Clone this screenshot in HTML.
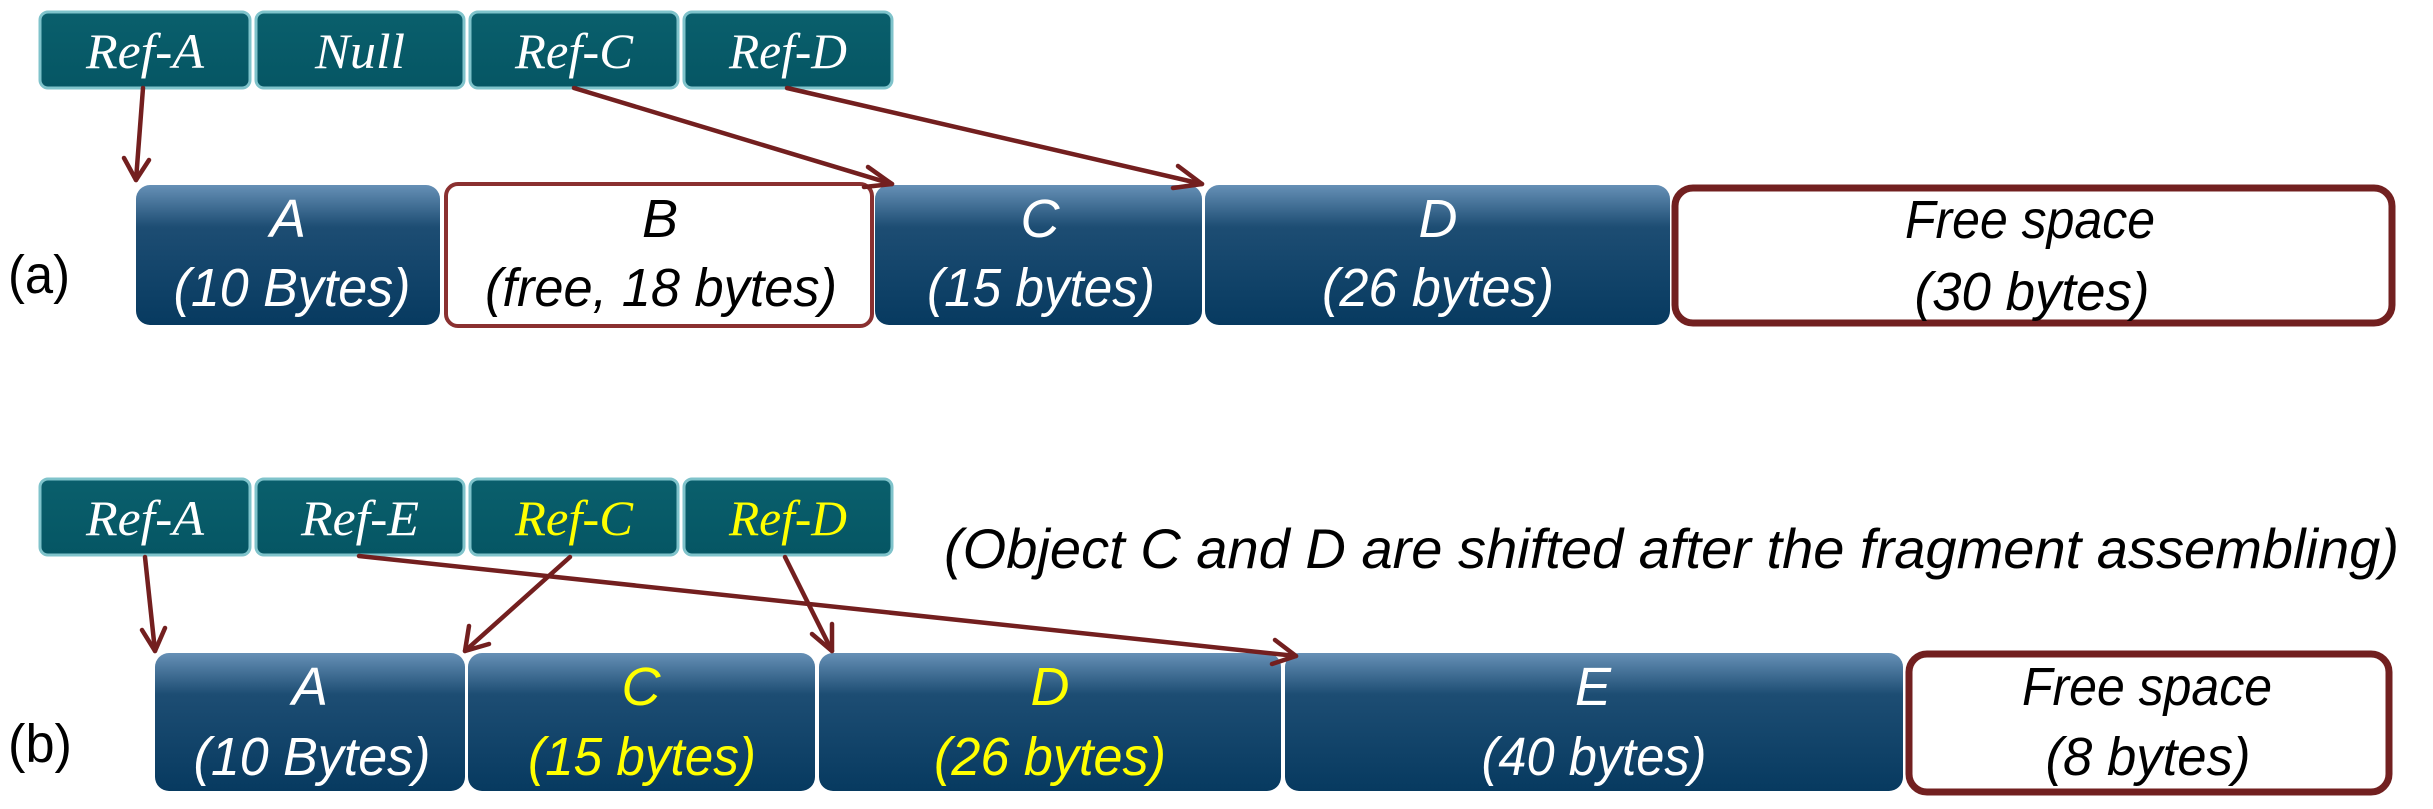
<!DOCTYPE html>
<html><head><meta charset="utf-8"><style>
html,body{margin:0;padding:0;background:#fff;width:2433px;height:809px;overflow:hidden}
svg{display:block}
.t{font-family:"Liberation Sans",sans-serif;font-style:italic;font-size:54px;text-anchor:middle}
.r{font-family:"Liberation Serif",serif;font-style:italic;font-size:50px;text-anchor:middle;fill:#fff}
</style></head><body>
<svg width="2433" height="809" viewBox="0 0 2433 809" xmlns="http://www.w3.org/2000/svg">
<defs>
<linearGradient id="bl" x1="0" y1="0" x2="0" y2="1">
<stop offset="0" stop-color="#6690b6"/><stop offset="0.3" stop-color="#1d4d73"/><stop offset="1" stop-color="#073a60"/>
</linearGradient>
<linearGradient id="tl" x1="0" y1="0" x2="0" y2="1">
<stop offset="0" stop-color="#0a5f6c"/><stop offset="1" stop-color="#055664"/>
</linearGradient>
<marker id="ah" markerWidth="10" markerHeight="10" refX="8" refY="5" orient="auto" markerUnits="userSpaceOnUse" viewBox="0 0 10 10">
</marker>
</defs>
<g stroke="#7fc3cb" stroke-width="3" fill="url(#tl)">
<rect x="40" y="12" width="210" height="76" rx="8"/>
<rect x="256" y="12" width="208" height="76" rx="8"/>
<rect x="470" y="12" width="208" height="76" rx="8"/>
<rect x="684" y="12" width="208" height="76" rx="8"/>
<rect x="40" y="479" width="210" height="76" rx="8"/>
<rect x="256" y="479" width="208" height="76" rx="8"/>
<rect x="470" y="479" width="208" height="76" rx="8"/>
<rect x="684" y="479" width="208" height="76" rx="8"/>
</g>
<text class="r" x="145" y="68" textLength="118" lengthAdjust="spacingAndGlyphs">Ref-A</text>
<text class="r" x="360" y="68" textLength="90" lengthAdjust="spacingAndGlyphs">Null</text>
<text class="r" x="574" y="68" textLength="118" lengthAdjust="spacingAndGlyphs">Ref-C</text>
<text class="r" x="788" y="68" textLength="118" lengthAdjust="spacingAndGlyphs">Ref-D</text>
<text class="r" x="145" y="535" textLength="118" lengthAdjust="spacingAndGlyphs">Ref-A</text>
<text class="r" x="360" y="535" textLength="118" lengthAdjust="spacingAndGlyphs">Ref-E</text>
<text class="r" x="574" y="535" textLength="118" lengthAdjust="spacingAndGlyphs" style="fill:#ffff00">Ref-C</text>
<text class="r" x="788" y="535" textLength="118" lengthAdjust="spacingAndGlyphs" style="fill:#ffff00">Ref-D</text>

<g fill="url(#bl)">
<rect x="136" y="185" width="304" height="140" rx="14"/>
<rect x="875" y="185" width="327" height="140" rx="14"/>
<rect x="1205" y="185" width="465" height="140" rx="14"/>
<rect x="155" y="653" width="310" height="138" rx="14"/>
<rect x="468" y="653" width="347" height="138" rx="14"/>
<rect x="819" y="653" width="462" height="138" rx="14"/>
<rect x="1285" y="653" width="618" height="138" rx="14"/>
</g>
<rect x="446" y="184" width="426" height="142" rx="12" fill="#fff" stroke="#8a3030" stroke-width="4"/>
<g fill="#fff" stroke="#722020" stroke-width="7">
<rect x="1675" y="188" width="717" height="135" rx="18"/>
<rect x="1909" y="654" width="480" height="138" rx="18"/>
</g>

<g class="t" fill="#fff">
<text x="288" y="237">A</text>
<text x="292" y="306" textLength="237" lengthAdjust="spacingAndGlyphs">(10 Bytes)</text>
<text x="660" y="237" fill="#000">B</text>
<text x="661" y="306" textLength="352" lengthAdjust="spacingAndGlyphs" fill="#000">(free, 18 bytes)</text>
<text x="1040" y="237">C</text>
<text x="1041" y="306" textLength="228" lengthAdjust="spacingAndGlyphs">(15 bytes)</text>
<text x="1438" y="237">D</text>
<text x="1438" y="306" textLength="232" lengthAdjust="spacingAndGlyphs">(26 bytes)</text>
<text x="2030" y="238" textLength="250" lengthAdjust="spacingAndGlyphs" fill="#000">Free space</text>
<text x="2032" y="310" textLength="235" lengthAdjust="spacingAndGlyphs" fill="#000">(30 bytes)</text>

<text x="310" y="705">A</text>
<text x="312" y="775" textLength="237" lengthAdjust="spacingAndGlyphs">(10 Bytes)</text>
<text x="641" y="705" fill="#ffff00">C</text>
<text x="642" y="775" textLength="228" lengthAdjust="spacingAndGlyphs" fill="#ffff00">(15 bytes)</text>
<text x="1050" y="705" fill="#ffff00">D</text>
<text x="1050" y="775" textLength="232" lengthAdjust="spacingAndGlyphs" fill="#ffff00">(26 bytes)</text>
<text x="1593" y="705">E</text>
<text x="1594" y="775" textLength="225" lengthAdjust="spacingAndGlyphs">(40 bytes)</text>
<text x="2147" y="705" textLength="250" lengthAdjust="spacingAndGlyphs" fill="#000">Free space</text>
<text x="2148" y="775" textLength="205" lengthAdjust="spacingAndGlyphs" fill="#000">(8 bytes)</text>
</g>
<text x="944" y="568" font-family="Liberation Sans,sans-serif" font-style="italic" font-size="56" textLength="1455" lengthAdjust="spacingAndGlyphs">(Object C and D are shifted after the fragment assembling)</text>
<text x="8" y="293" font-family="Liberation Sans,sans-serif" font-size="54" textLength="62" lengthAdjust="spacingAndGlyphs">(a)</text>
<text x="8" y="762" font-family="Liberation Sans,sans-serif" font-size="54" textLength="64" lengthAdjust="spacingAndGlyphs">(b)</text>

<g stroke="#731f1f" stroke-width="4.5" fill="none" stroke-linecap="round" stroke-linejoin="round">
<path d="M143 88 L136 180"/><path d="M124 158 L136 180 L149 160"/>
<path d="M574 88 L892 184"/><path d="M868 167 L892 184 L864 187"/>
<path d="M787 88 L1202 184"/><path d="M1178 166 L1202 184 L1173 188"/>
<path d="M145 557 L155 651"/><path d="M142 630 L155 651 L165 628"/>
<path d="M570 557 L465 651"/><path d="M469 626 L465 651 L489 644"/>
<path d="M785 557 L832 651"/><path d="M812 634 L832 651 L832 624"/>
<path d="M359 556 L1296 656"/><path d="M1275 640 L1296 656 L1272 664"/>
</g>
</svg>
</body></html>
